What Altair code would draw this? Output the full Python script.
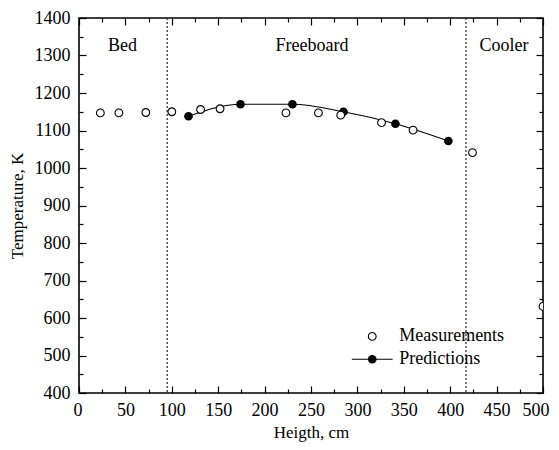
import altair as alt
import pandas as pd

# ---- data ----
meas_h = [23, 43, 72, 100, 131, 152, 223, 258, 282, 326, 360, 424, 500]
meas_t = [1147, 1147, 1148, 1150, 1156, 1158, 1147, 1147, 1141, 1121, 1101, 1041, 631]
pred_h = [118, 174, 230, 285, 341, 398]
pred_t = [1138, 1170, 1170, 1150, 1118, 1072]

zone_bounds = [95, 417]
zone_names = ["Bed", "Freeboard", "Cooler"]
zone_label_h = [47, 251, 458]
zone_label_t = [1312, 1312, 1312]

legend_names = ["Measurements", "Predictions"]
legend_sym_h = [316, 316]
legend_line_h = [294, 338]
legend_text_h = [345, 345]
legend_t = [551, 490]

x_major = list(range(0, 501, 50))
x_minor = list(range(25, 500, 50))
y_major = list(range(400, 1401, 100))
y_minor = list(range(450, 1400, 100))

W, H = 464, 375
FONT = "Liberation Serif, Times New Roman, Times, serif"
FS = 18

meas = pd.DataFrame({"h": meas_h, "t": meas_t})
pred = pd.DataFrame({"h": pred_h, "t": pred_t})
zones = pd.DataFrame({"h": zone_bounds})
zlab = pd.DataFrame({"h": zone_label_h, "t": zone_label_t, "name": zone_names})
leg_sym = pd.DataFrame({"h": legend_sym_h, "t": legend_t, "name": legend_names})
leg_line = pd.DataFrame({"h": legend_line_h, "t": [legend_t[1]] * 2})
leg_text = pd.DataFrame({"h": legend_text_h, "t": legend_t, "name": legend_names})

xs = alt.Scale(domain=[0, 500], nice=False, zero=False)
ys = alt.Scale(domain=[400, 1400], nice=False, zero=False)

common = dict(domain=False, grid=False, tickColor="black", tickWidth=1.2,
              labelFont=FONT, labelFontSize=FS, labelColor="black",
              labelFlush=False, labelOverlap=False, format="d",
              titleFont=FONT, titleFontSize=17, titleColor="black",
              titleFontWeight="normal")

def ax(**kw):
    d = dict(common)
    d.update(kw)
    return alt.Axis(**d)

x_axes = [
    ax(orient="bottom", values=x_major, tickSize=0, labelPadding=8,
       labelFlush=True, labelFlushOffset=6,
       title="Heigth, cm", titlePadding=5),
    ax(orient="top", offset=-H, values=x_major, tickSize=7, labels=False, title=None),
    ax(orient="top", offset=-H, values=x_minor, tickSize=4, labels=False, title=None),
    ax(orient="bottom", offset=-H, values=x_major, tickSize=7, labels=False, title=None),
    ax(orient="bottom", offset=-H, values=x_minor, tickSize=4, labels=False, title=None),
]
y_axes = [
    ax(orient="left", values=y_major, tickSize=0, labelPadding=9,
       title="Temperature, K", titlePadding=8),
    ax(orient="right", offset=-W, values=y_major, tickSize=7, labels=False, title=None),
    ax(orient="right", offset=-W, values=y_minor, tickSize=4, labels=False, title=None),
    ax(orient="left", offset=-W, values=y_major, tickSize=7, labels=False, title=None),
    ax(orient="left", offset=-W, values=y_minor, tickSize=4, labels=False, title=None),
]

axis_layers = [
    alt.Chart(meas).mark_point(opacity=0).encode(
        x=alt.X("h:Q", scale=xs, axis=xa),
        y=alt.Y("t:Q", scale=ys, axis=ya),
    )
    for xa, ya in zip(x_axes, y_axes)
]

X = lambda: alt.X("h:Q", scale=xs, axis=None)
Y = lambda: alt.Y("t:Q", scale=ys, axis=None)

zone_rules = alt.Chart(zones).mark_rule(
    color="#222222", strokeWidth=1.2, strokeDash=[2, 2]
).encode(x=X())

zone_text = alt.Chart(zlab).mark_text(
    font=FONT, fontSize=FS, color="black", align="center", baseline="alphabetic"
).encode(x=X(), y=Y(), text="name:N")

pred_line = alt.Chart(pred).mark_line(
    color="black", strokeWidth=1.2, interpolate="monotone"
).encode(x=X(), y=Y())

pred_pts = alt.Chart(pred).mark_point(
    shape="circle", filled=True, color="black", size=75, opacity=1
).encode(x=X(), y=Y())

meas_pts = alt.Chart(meas).mark_point(
    shape="circle", filled=True, fill="white", stroke="black", strokeWidth=1.1,
    size=60, opacity=1, clip=True
).encode(x=X(), y=Y())

leg_l = alt.Chart(leg_line).mark_line(color="black", strokeWidth=1.2).encode(x=X(), y=Y())
leg_open = alt.Chart(leg_sym.iloc[[0]]).mark_point(
    shape="circle", filled=True, fill="white", stroke="black", strokeWidth=1.1,
    size=60, opacity=1
).encode(x=X(), y=Y())
leg_fill = alt.Chart(leg_sym.iloc[[1]]).mark_point(
    shape="circle", filled=True, color="black", size=75, opacity=1
).encode(x=X(), y=Y())
leg_txt = alt.Chart(leg_text).mark_text(
    font=FONT, fontSize=FS, color="black", align="left", baseline="middle"
).encode(x=X(), y=Y(), text="name:N")

chart = alt.layer(
    *axis_layers, zone_rules, zone_text, pred_line, pred_pts, meas_pts,
    leg_l, leg_open, leg_fill, leg_txt
).resolve_axis(
    x="independent", y="independent"
).properties(
    width=W, height=H,
    autosize=alt.AutoSizeParams(type="none"),
    padding={"left": 71, "top": 10, "right": 8, "bottom": 49},
    background="white",
).configure(
    font=FONT
).configure_view(
    stroke="black", strokeWidth=1.6
)

chart.save("out.html", embed_options={"renderer": "svg", "actions": False})
